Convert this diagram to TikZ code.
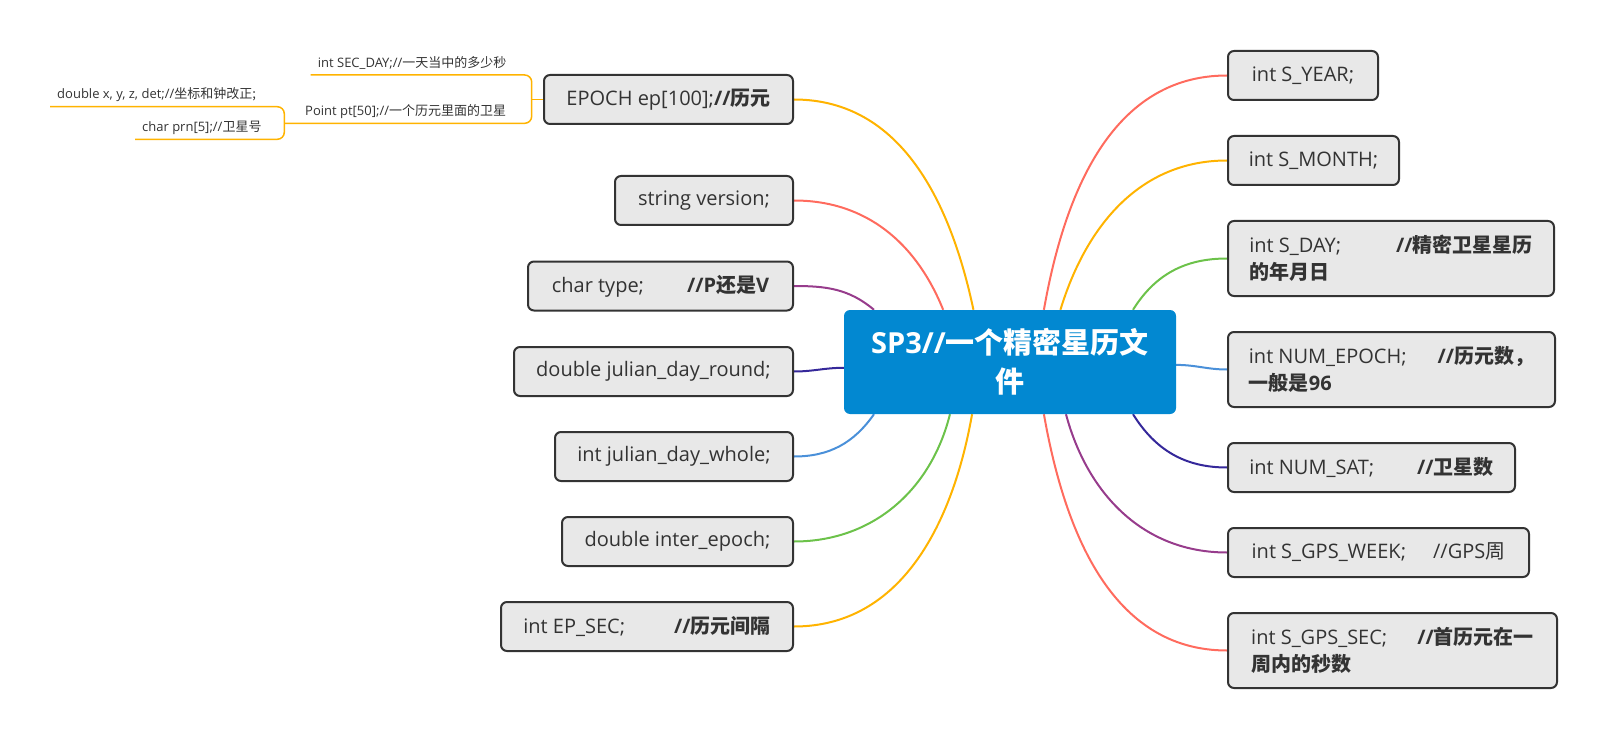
\documentclass[tikz,border=0pt]{standalone}
\usepackage{fontspec}
\setmainfont{Open Sans}
\newfontfamily\cjk{Noto Sans CJK SC}
\usepackage{xcolor}
\usetikzlibrary{positioning,backgrounds}
\definecolor{boxgray}{HTML}{E8E8E8}
\definecolor{linegray}{HTML}{333333}
\definecolor{rootblue}{HTML}{0288D1}
\definecolor{brred}{HTML}{FF6B5E}
\definecolor{brorange}{HTML}{FFB300}
\definecolor{brgreen}{HTML}{6CC24A}
\definecolor{brblue}{HTML}{4A90D9}
\definecolor{brindigo}{HTML}{35289A}
\definecolor{brpurple}{HTML}{973C8C}
\newcommand{\zh}[1]{{\cjk #1}}

\begin{document}
\begin{tikzpicture}[
    x=1pt, y=1pt,
    root/.style={fill=rootblue, text=white, rounded corners=6pt, align=center,
      font=\fontsize{29}{39}\selectfont\bfseries, minimum width=332pt, minimum height=104pt},
    topic/.style={draw=linegray, fill=boxgray, line width=2pt, rounded corners=6pt,
      text=linegray, font=\fontsize{20}{26.7}\selectfont, inner sep=0pt, minimum height=49pt},
    tall/.style={align=left, minimum height=75pt},
    leaf/.style={text=linegray, font=\fontsize{13}{16}\selectfont, inner xsep=7pt,
      inner ysep=7.5pt, text depth=0pt, anchor=south west},
    branch/.style={line width=2pt},
    sub/.style={line width=1.5pt, brorange, rounded corners=7pt}]

  \useasboundingbox (0,0) rectangle (1606,-738);

  % central topic
  \node[root] (sp3) at (1010,-362) {SP3//\zh{一个精密星历文}\\\zh{件}};

  % right side
  \node[topic, anchor=west, minimum width=150pt] (year) at (1227,-75.5) {int S\_YEAR;};
  \node[topic, anchor=west, minimum width=171pt] (month) at (1227,-160.5) {int S\_MONTH;};
  \node[topic, tall, anchor=west, minimum width=326pt] (day) at (1227,-258.5)
    {int S\_DAY;\hspace{55pt}{\bfseries//\zh{精密卫星星历}}\\{\bfseries\zh{的年月日}}};
  \node[topic, tall, anchor=west, minimum width=327pt] (numep) at (1227,-369.5)
    {int NUM\_EPOCH;\hspace{31pt}{\bfseries//\zh{历元数，}}\\{\bfseries\zh{一般是}96}};
  \node[topic, anchor=west, minimum width=287pt] (numsat) at (1227,-467.5)
    {int NUM\_SAT;\hspace{43pt}{\bfseries//\zh{卫星数}}};
  \node[topic, anchor=west, minimum width=301pt] (gpsweek) at (1227,-552.5)
    {int S\_GPS\_WEEK;\hspace{27pt}//GPS\zh{周}};
  \node[topic, tall, anchor=west, minimum width=329pt] (gpssec) at (1227,-650.5)
    {int S\_GPS\_SEC;\hspace{30pt}{\bfseries//\zh{首历元在一}}\\{\bfseries\zh{周内的秒数}}};

  % left side
  \node[topic, anchor=east, minimum width=249pt] (epoch) at (794,-99.5)
    {EPOCH ep[100];{\bfseries//\zh{历元}}};
  \node[topic, anchor=east, minimum width=178pt] (version) at (794,-200.5) {string version;};
  \node[topic, anchor=east, minimum width=265pt] (type) at (794,-286)
    {char type;\hspace{43pt}{\bfseries//P\zh{还是}V}};
  \node[topic, anchor=east, minimum width=279pt] (jdround) at (794,-371.5) {double julian\_day\_round;};
  \node[topic, anchor=east, minimum width=238pt] (jdwhole) at (794,-456.5) {int julian\_day\_whole;};
  \node[topic, anchor=east, minimum width=231pt] (inter) at (794,-541.5) {double inter\_epoch;};
  \node[topic, anchor=east, minimum width=292pt] (epsec) at (794,-626.5)
    {int EP\_SEC;\hspace{49pt}{\bfseries//\zh{历元间隔}}};

  % members of EPOCH
  \node[leaf] (secday) at (310.7,-75) {int SEC\_DAY;//\zh{一天当中的多少秒}};
  \node[leaf] (pt) at (298,-123.3) {Point pt[50];//\zh{一个历元里面的卫星}};
  \node[leaf] (xyz) at (50,-106.7) {double x, y, z, det;//\zh{坐标和钟改正;}};
  \node[leaf] (prn) at (135,-139.3) {char prn[5];//\zh{卫星号}};
  \coordinate (fork1) at (531.7,-99.5);
  \coordinate (fork2) at (284.3,-123.3);

  \begin{scope}[on background layer]
    \draw[branch, brred] (sp3.57) to[out=80, in=180] (year.west);
    \draw[branch, brorange] (sp3.46) to[out=73, in=180] (month.west);
    \draw[branch, brgreen] (sp3.23) to[out=58, in=180] (day.west);
    \draw[branch, brblue] (sp3.-1) to[out=0, in=180] (numep.west);
    \draw[branch, brindigo] (sp3.-23) to[out=-58, in=180] (numsat.west);
    \draw[branch, brpurple] (sp3.-43) to[out=-75, in=180] (gpsweek.west);
    \draw[branch, brred] (sp3.-57) to[out=-80, in=180] (gpssec.west);

    \draw[branch, brorange] (sp3.125.6) to[out=102, in=0] (epoch.east);
    \draw[branch, brred] (sp3.142.3) to[out=112, in=0] (version.east);
    \draw[branch, brpurple] (sp3.159.8) to[out=140, in=0] (type.east);
    \draw[branch, brindigo] (sp3.182) to[out=180, in=0] (jdround.east);
    \draw[branch, brblue] (sp3.201.5) to[out=-125, in=0] (jdwhole.east);
    \draw[branch, brgreen] (sp3.221.2) to[out=-104, in=0] (inter.east);
    \draw[branch, brorange] (sp3.234.4) to[out=-100, in=0] (epsec.east);
  \end{scope}

  \draw[sub] (epoch.west) -- (fork1);
  \draw[sub] (secday.south west) -- (secday.south west -| fork1)
    -- (fork2 -| fork1) -- (pt.south west) -- (fork2);
  \draw[sub] (xyz.south west) -- (xyz.south west -| fork2)
    -- (prn.south west -| fork2) -- (prn.south west);
\end{tikzpicture}
\end{document}
